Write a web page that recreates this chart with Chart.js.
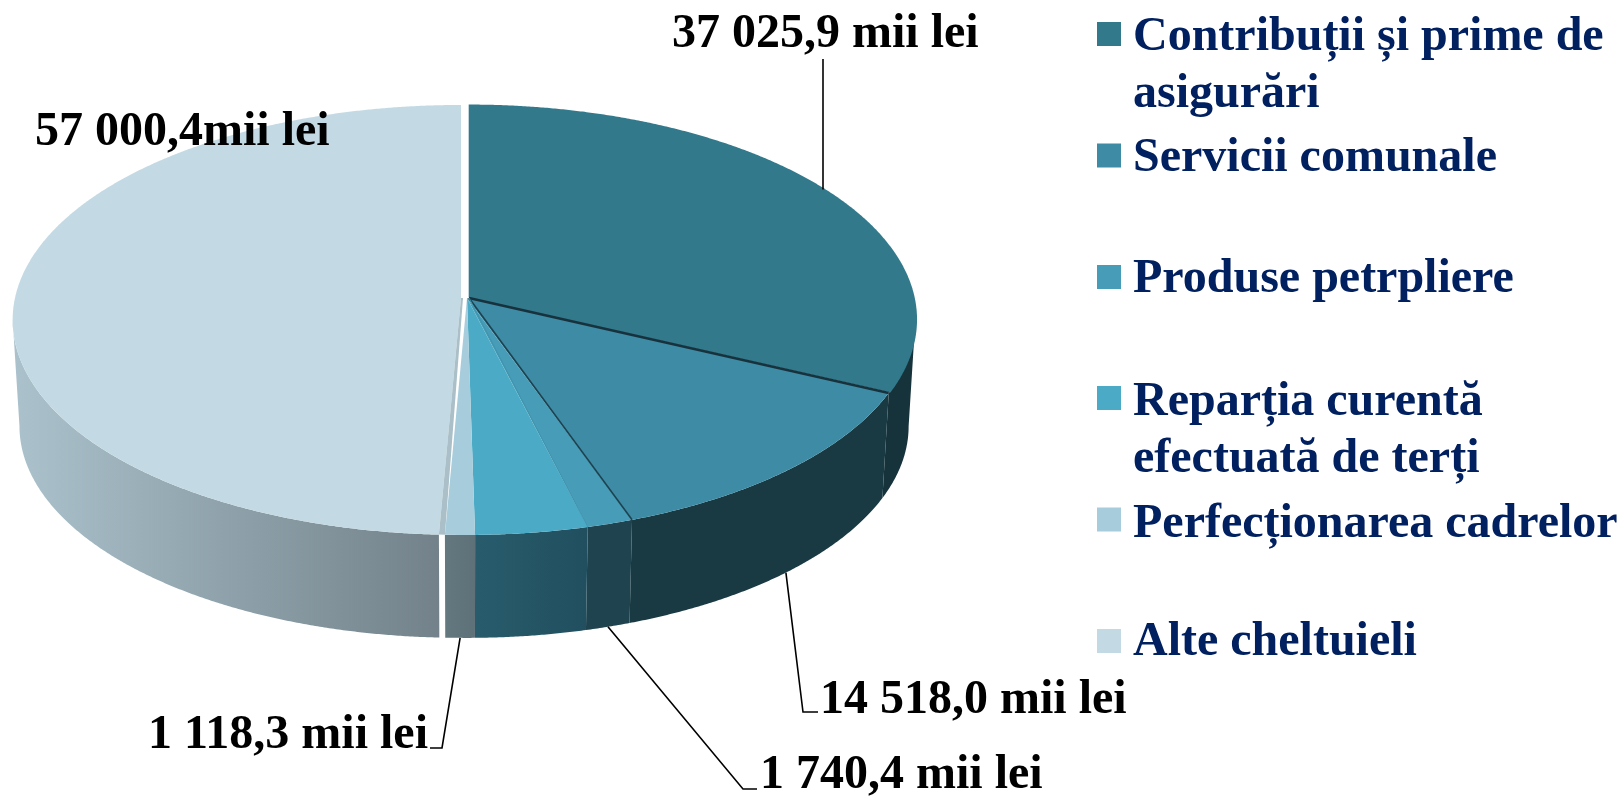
<!DOCTYPE html>
<html lang="ro">

<head>
  <meta charset="UTF-8">
  <title>Cheltuieli</title>
  <style>
    html, body { margin: 0; padding: 0; background: #fff; overflow: hidden; }
    canvas { display: block; }
  </style>
</head>

<body>
  <canvas id="grafic" width="1622" height="796" style="width: 1622px; height: 796px"></canvas>

  <script src="https://cdn.jsdelivr.net/npm/chart.js"></script>

  <script>
    const categorii = [
      ['Contribuții și prime de', 'asigurări'],
      ['Servicii comunale'],
      ['Produse petrpliere'],
      ['Reparția curentă', 'efectuată de terți'],
      ['Perfecționarea cadrelor'],
      ['Alte cheltuieli']
    ]
    // mii lei; Reparatia has no label in the picture, read from its slice
    const valori = [37025.9, 14518.0, 1740.4, 4235, 1118.3, 57000.4]
    const etichete = ['37 025,9 mii lei', '14 518,0 mii lei', '1 740,4 mii lei', '', '1 118,3 mii lei', '57 000,4mii lei']

    const culori = ['#33798c', '#3d8ba5', '#479cb7', '#4babc6', '#a7ccdc', '#c3dae4']
    const pereteStanga = ['#16323b', '#193a43', '#1f4450', '#285c6c', '#64787f', '#abc2cc']
    const pereteDreapta = ['#16323b', '#193a43', '#1f4450', '#214f5f', '#5e7179', '#73828a']
    const decalaj = [2, 0, 0, 0, 0, 6]

    // perspective of the disc, measured on the picture
    const cx = 467, y0 = 298, ax = 446, by = 212.7, p = 0.1023
    const yJos = 404.5, sJos = 0.985

    const font = 'bold 48px "Liberation Serif"'
    const legendaY = [22, 143.5, 265, 386, 507.5, 629]
    const legendaText = [50, 171, 292, 415, 537, 655]
    // label text position and elbow of the leader line
    const pozEticheta = [
      { x: 672, y: 47, cot: [823, 59] },
      { x: 820, y: 713, cot: [803, 712], capat: [818, 712], jos: true },
      { x: 760, y: 788, cot: [743, 789], capat: [757, 789], jos: true },
      null,
      { x: 148, y: 748, cot: [442, 748], capat: [430, 748], jos: true },
      { x: 35, y: 145 }
    ]

    let proiect = (a, dec, mid) => {
      const u = Math.sin(a), v = -Math.cos(a), w = 1 - p * v
      return {
        x: cx + ax * u / w + dec * Math.sin(mid),
        y: y0 + by * v / w - dec * Math.cos(mid) * 0.45
      }
    }
    let jos = (pt) => ({ x: cx + sJos * (pt.x - cx), y: yJos + sJos * (pt.y - y0) })

    // chart.js angles start at -90deg, here 0 is the top of the disc
    let unghiuri = (arc) => {
      const s = arc.startAngle + Math.PI / 2, e = arc.endAngle + Math.PI / 2
      return { s, e, mid: (s + e) / 2, dec: arc.options.offset || 0 }
    }

    let pereti = (c, arcs) => {
      // the side stops where the top ellipse turns back (v = p)
      const lim0 = Math.PI - Math.acos(p), lim1 = Math.PI + Math.acos(p)
      const ordine = [5, 0, 1, 2, 3, 4]
      ordine.forEach(i => {
        const g = unghiuri(arcs[i])
        const s = Math.max(g.s, lim0), e = Math.min(g.e, lim1)
        if (e <= s) return
        // only the Alte slice is really pulled away on the side
        const dec = i === 5 ? g.dec : 0
        const sus = []
        const n = Math.ceil((e - s) / 0.005)
        for (let k = 0; k <= n; k++) sus.push(proiect(s + (e - s) * k / n, dec, g.mid))
        const josPts = sus.map(jos).reverse()
        const xs = sus.concat(josPts).map(q => q.x)
        const grad = c.createLinearGradient(Math.min(...xs), 0, Math.max(...xs), 0)
        grad.addColorStop(0, pereteStanga[i])
        grad.addColorStop(1, pereteDreapta[i])
        c.beginPath()
        sus.concat(josPts).forEach((q, k) => k ? c.lineTo(q.x, q.y) : c.moveTo(q.x, q.y))
        c.closePath()
        c.fillStyle = grad
        c.fill()
      })
    }

    let felii = (c, arcs) => {
      arcs.forEach((arc, i) => {
        const g = unghiuri(arc)
        const dx = g.dec * Math.sin(g.mid), dy = -g.dec * Math.cos(g.mid) * 0.45
        c.beginPath()
        c.moveTo(cx + dx, y0 + dy)
        const n = Math.ceil((g.e - g.s) / 0.005)
        for (let k = 0; k <= n; k++) {
          const q = proiect(g.s + (g.e - g.s) * k / n, g.dec, g.mid)
          c.lineTo(q.x, q.y)
        }
        c.closePath()
        c.fillStyle = culori[i]
        c.fill()
      })
      // inner faces seen between the slices
      let linie = (i, culoare, grosime) => {
        const g = unghiuri(arcs[i])
        const q = proiect(g.e, 0, 0)
        c.beginPath()
        c.moveTo(cx + 2, y0)
        c.lineTo(q.x, q.y)
        c.strokeStyle = culoare
        c.lineWidth = grosime
        c.stroke()
      }
      linie(0, '#17323c', 2.5)
      linie(1, '#1d4250', 1.6)
      linie(2, '#3f93ad', 1)

      const a = unghiuri(arcs[5])
      const r0 = proiect(a.s, a.dec, a.mid), r1 = proiect(a.s, 0, 0)
      const ax0 = cx + a.dec * Math.sin(a.mid), ay0 = y0 - a.dec * Math.cos(a.mid) * 0.45
      c.beginPath()
      c.moveTo(ax0, ay0)
      c.lineTo(r0.x, r0.y)
      c.lineTo(r1.x, r1.y)
      c.lineTo(ax0 + 2, ay0)
      c.closePath()
      c.fillStyle = '#aabfc7'
      c.fill()
    }

    let legenda = (c) => {
      c.font = font
      c.textBaseline = 'alphabetic'
      categorii.forEach((linii, i) => {
        c.fillStyle = culori[i]
        c.fillRect(1097, legendaY[i], 24, 24)
        c.fillStyle = '#002060'
        linii.forEach((t, k) => c.fillText(t, 1133, legendaText[i] + k * 57))
      })
    }

    let etichetare = (c, arcs) => {
      c.font = font
      c.strokeStyle = '#000'
      c.lineWidth = 1.6
      etichete.forEach((t, i) => {
        if (!t) return
        const poz = pozEticheta[i]
        if (poz.cot) {
          const g = unghiuri(arcs[i])
          const rim = proiect(g.mid, g.dec, g.mid)
          const start = poz.jos ? jos(rim) : { x: poz.cot[0], y: rim.y }
          c.beginPath()
          c.moveTo(start.x, start.y)
          c.lineTo(poz.cot[0], poz.cot[1])
          if (poz.capat) c.lineTo(poz.capat[0], poz.capat[1])
          c.stroke()
        }
        c.fillStyle = '#000'
        c.fillText(t, poz.x, poz.y)
      })
    }

    const disc3d = {
      id: 'disc3d',
      beforeDatasetDraw(chart) {
        const arcs = chart.getDatasetMeta(0).data
        pereti(chart.ctx, arcs)
        felii(chart.ctx, arcs)
        return false
      },
      afterDraw(chart) {
        const arcs = chart.getDatasetMeta(0).data
        const c = chart.ctx
        c.save()
        etichetare(c, arcs)
        legenda(c)
        c.restore()
      }
    }

    new Chart(document.getElementById('grafic'), {
      type: 'pie',
      data: {
        labels: categorii,
        datasets: [{
          data: valori,
          backgroundColor: culori,
          offset: decalaj,
          borderWidth: 0
        }]
      },
      options: {
        responsive: false,
        animation: false,
        events: [],
        plugins: {
          legend: { display: false },
          tooltip: { enabled: false }
        }
      },
      plugins: [disc3d]
    })
  </script>
</body>

</html>
